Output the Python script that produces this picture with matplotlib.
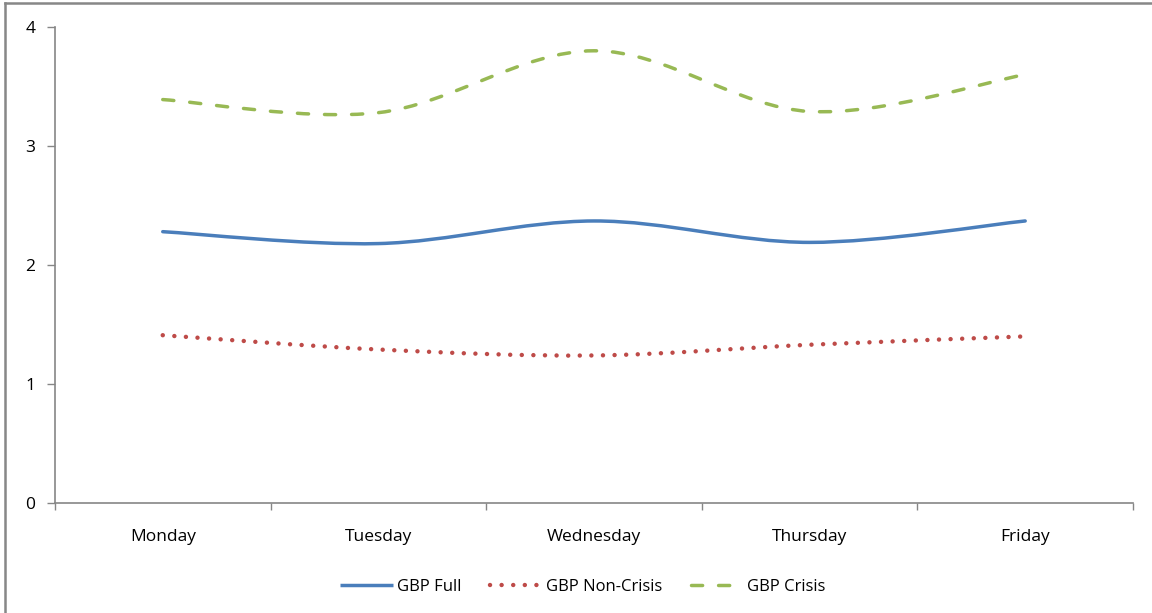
import numpy as np
import matplotlib.pyplot as plt
from matplotlib.path import Path
from matplotlib.patches import PathPatch
from matplotlib.lines import Line2D

days = ['Monday', 'Tuesday', 'Wednesday', 'Thursday', 'Friday']
gbp_full = [2.28, 2.18, 2.37, 2.19, 2.37]
gbp_non_crisis = [1.41, 1.29, 1.24, 1.33, 1.40]
gbp_crisis = [3.39, 3.28, 3.80, 3.29, 3.60]

plt.rcParams['font.family'] = ['Open Sans', 'DejaVu Sans']


def smooth_path(y):
    # excel style smoothed line: cubic bezier through every point
    x = np.arange(len(y), dtype=float)
    y = np.asarray(y, dtype=float)
    px = np.concatenate([[x[0]], x, [x[-1]]])
    py = np.concatenate([[y[0]], y, [y[-1]]])
    verts = [(x[0], y[0])]
    codes = [Path.MOVETO]
    for i in range(len(y) - 1):
        j = i + 1
        c1 = (px[j] + (px[j + 1] - px[j - 1]) / 6, py[j] + (py[j + 1] - py[j - 1]) / 6)
        c2 = (px[j + 1] - (px[j + 2] - px[j]) / 6, py[j + 1] - (py[j + 2] - py[j]) / 6)
        verts += [c1, c2, (x[j], y[j])]
        codes += [Path.CURVE4] * 3
    return Path(verts, codes)


fig = plt.figure(figsize=(11.52, 6.13), dpi=100)
ax = fig.add_axes([0.0477, 0.1794, 0.9358, 0.7766])

styles = [
    (gbp_full, 'GBP Full', '#4a7ebb', '-', 2.5),
    (gbp_non_crisis, 'GBP Non-Crisis', '#be4b48', (0, (0.01, 2.6)), 3.2),
    (gbp_crisis, 'GBP Crisis', '#98b954', (0, (3.2, 4.6)), 2.5),
]
handles = []
for vals, name, col, ls, lw in styles:
    patch = PathPatch(smooth_path(vals), fill=False, edgecolor=col, lw=lw,
                      linestyle=ls, capstyle='round')
    ax.add_patch(patch)
    handles.append(Line2D([], [], color=col, lw=lw, linestyle=ls,
                          dash_capstyle='round', solid_capstyle='butt', label=name))

ax.set_xlim(-0.5, 4.5)
ax.set_ylim(0, 4)
ax.set_yticks([0, 1, 2, 3, 4])
ax.set_xticks(np.arange(-0.5, 5, 1))
ax.set_xticklabels([])
ax.set_xticks(range(5), minor=True)
ax.set_xticklabels(days, minor=True)
ax.tick_params(axis='x', which='minor', length=0, pad=19, labelsize=12.5)
ax.tick_params(axis='x', which='major', length=5, color='#868686', width=1)
ax.tick_params(axis='y', length=6, color='#868686', width=1, pad=8, labelsize=12.5)
for s in ['top', 'right']:
    ax.spines[s].set_visible(False)
for s in ['left', 'bottom']:
    ax.spines[s].set_color('#868686')
    ax.spines[s].set_linewidth(1.2)

fig.legend(handles=handles, loc='center', bbox_to_anchor=(0.506, 0.043), ncol=3,
           frameon=False, fontsize=12, handlelength=3.2, handletextpad=0.2,
           columnspacing=1.7)

# outer chart border (top and left edges)
fig.add_artist(Line2D([0.0043, 0.0043], [0, 0.995], transform=fig.transFigure,
                      color='#878787', lw=1.8))
fig.add_artist(Line2D([0.0043, 1], [0.995, 0.995], transform=fig.transFigure,
                      color='#878787', lw=1.8))

fig.savefig('out.png', dpi=100)
